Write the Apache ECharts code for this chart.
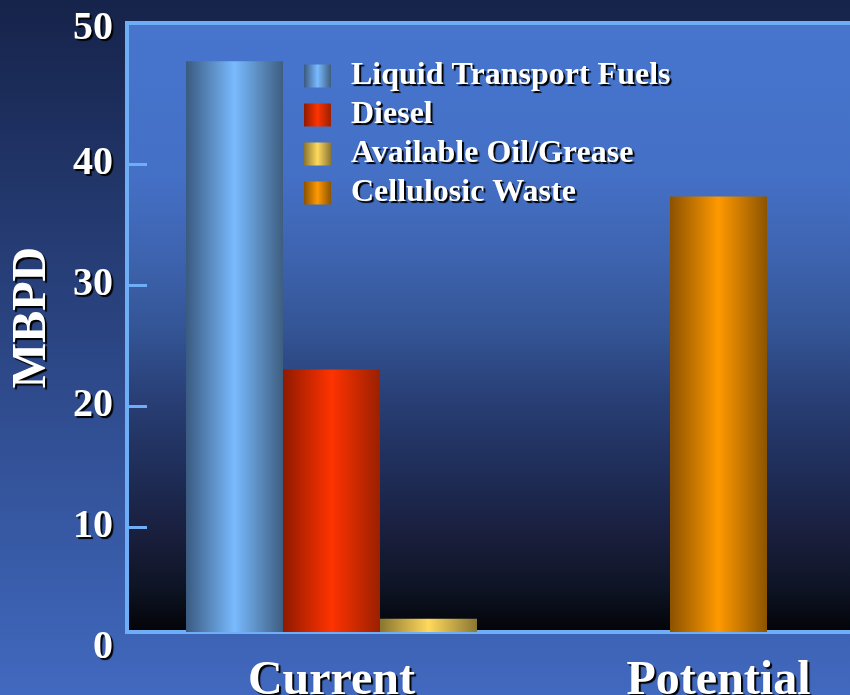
<!DOCTYPE html>
<html>
<head>
<meta charset="utf-8">
<script src="https://cdn.jsdelivr.net/npm/echarts@6/dist/echarts.min.js"></script>
<style>html,body{margin:0;padding:0;}#c{width:850px;height:695px;}</style>
</head>
<body>
<div id="c"></div>
<script>
var categories = ['Current', 'Potential'];
var seriesNames = ['Liquid Transport Fuels', 'Diesel', 'Available Oil/Grease', 'Cellulosic Waste'];
var liquidFuels = [48.5, '-'];
var diesel = [23.0, '-'];
var oilGrease = [2.4, '-'];
var cellulosic = ['-', 37.3];
var yTicks = [0, 10, 20, 30, 40, 50];

var FONT = '"Liberation Serif", "Times New Roman", serif';
var LINE = '#6eaef7';
function grad(dark, light, dark2) {
  return {type: 'linear', x: 0, y: 0, x2: 1, y2: 0,
    colorStops: [{offset: 0, color: dark}, {offset: 0.5, color: light}, {offset: 1, color: dark2}]};
}
var shadow = {textShadowColor: '#000', textShadowOffsetX: 2, textShadowOffsetY: 2, textShadowBlur: 1};
function txt(size) {
  return Object.assign({color: '#fff', fontFamily: FONT, fontWeight: 'bold', fontSize: size}, shadow);
}

var chart = echarts.init(document.getElementById('c'));
var scale = 604.8 / 50;
var barMin = 50 - 589 / scale;

chart.setOption({
  backgroundColor: {type: 'linear', x: 0, y: 0, x2: 0, y2: 1,
    colorStops: [{offset: 0, color: '#16234a'}, {offset: 1, color: '#4169bf'}]},
  animation: false,
  grid: [
    {left: 127, top: 23, width: 730, height: 609, show: true, borderWidth: 4, borderColor: LINE,
      outerBoundsMode: 'none', containLabel: false,
      backgroundColor: {type: 'linear', x: 0, y: 0, x2: 0, y2: 1,
        colorStops: [
          {offset: 0, color: '#4775ce'},
          {offset: 0.25, color: '#4470c6'},
          {offset: 0.38, color: '#3e64b0'},
          {offset: 0.5, color: '#345596'},
          {offset: 0.62, color: '#283e74'},
          {offset: 0.75, color: '#1e2b54'},
          {offset: 0.84, color: '#191e3c'},
          {offset: 0.92, color: '#0f1526'},
          {offset: 1, color: '#020306'}]}},
    {left: 127, top: 43, width: 723, height: 604.8, outerBoundsMode: 'none', containLabel: false},
    {left: 138, top: 43, width: 774, height: 589, outerBoundsMode: 'none', containLabel: false}
  ],
  xAxis: [
    {gridIndex: 0, type: 'category', data: categories, show: false},
    {gridIndex: 2, type: 'category', data: categories,
      axisLine: {show: false}, axisTick: {show: false},
      axisLabel: Object.assign(txt(48), {margin: 26, lineHeight: 48})},
    {gridIndex: 2, type: 'category', data: categories, show: false},
    {gridIndex: 1, type: 'category', data: categories, show: false}
  ],
  yAxis: [
    {gridIndex: 0, type: 'value', min: 0, max: 50, name: 'MBPD', nameLocation: 'middle', nameRotate: 90,
      nameGap: 70, nameTextStyle: Object.assign(txt(48), {padding: [0, 0, 0, 20], lineHeight: 48}),
      axisLine: {show: false}, axisTick: {show: false}, axisLabel: {show: false}, splitLine: {show: false}},
    {gridIndex: 1, type: 'value', min: yTicks[0], max: yTicks[yTicks.length - 1], interval: 10,
      axisLine: {show: false}, splitLine: {show: false},
      axisTick: {show: true, inside: true, length: 20, lineStyle: {color: LINE, width: 3},
        customValues: yTicks.slice(1, yTicks.length - 1)},
      axisLabel: Object.assign(txt(40), {margin: 14,
        formatter: function (v) { return v === 50 ? '{t|50}' : String(v); },
        rich: {t: Object.assign(txt(40), {padding: [0, 0, 28, 0]})}})},
    {gridIndex: 2, type: 'value', min: barMin, max: 50, show: false, splitLine: {show: false}}
  ],
  legend: {
    orient: 'vertical', left: 304, top: 60, padding: 0, itemWidth: 27, itemHeight: 23, itemGap: 7,
    icon: 'rect', data: seriesNames,
    textStyle: Object.assign(txt(32), {padding: [0, 0, 0, 15]})
  },
  series: [
    {name: seriesNames[0], type: 'bar', xAxisIndex: 1, yAxisIndex: 2, data: liquidFuels,
      barWidth: 97, barGap: '0%', itemStyle: {color: grad('#3a5a80', '#79baff', '#3e5e80')}},
    {name: seriesNames[1], type: 'bar', xAxisIndex: 1, yAxisIndex: 2, data: diesel,
      barWidth: 97, barGap: '0%', itemStyle: {color: grad('#8f1a00', '#ff3300', '#9a2000')}},
    {name: seriesNames[2], type: 'bar', xAxisIndex: 1, yAxisIndex: 2, data: oilGrease,
      barWidth: 97, barGap: '0%', itemStyle: {color: grad('#8a7530', '#ffd95c', '#8b7634')}},
    {name: seriesNames[3], type: 'bar', xAxisIndex: 2, yAxisIndex: 2, data: cellulosic,
      barWidth: 97, itemStyle: {color: grad('#8c5200', '#ff9900', '#8c5400')}}
  ]
});
</script>
</body>
</html>
